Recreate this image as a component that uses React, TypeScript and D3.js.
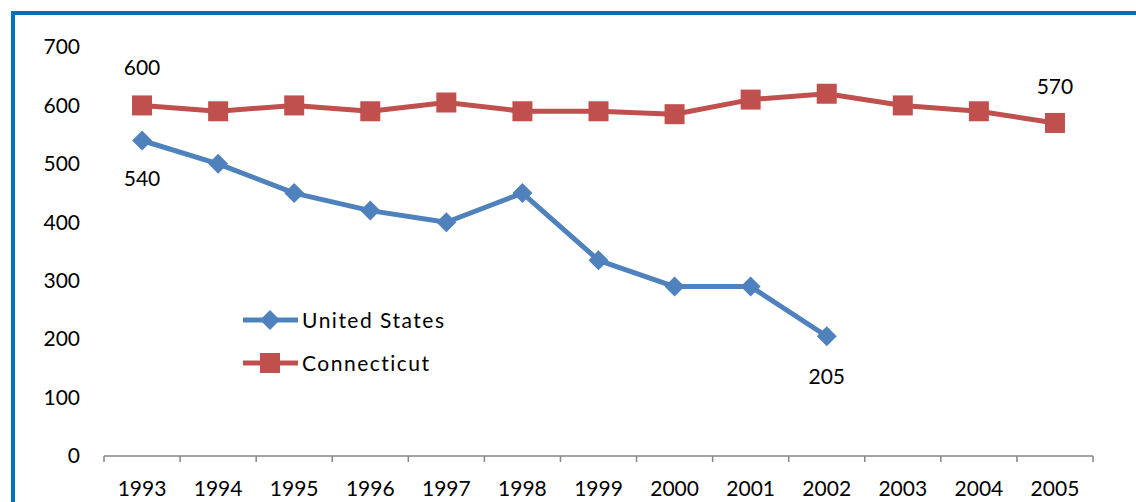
import * as d3 from 'd3';

const years = ['1993', '1994', '1995', '1996', '1997', '1998', '1999', '2000', '2001', '2002', '2003', '2004', '2005'];
const usValues = [540, 500, 450, 420, 400, 450, 335, 290, 290, 205];
const ctValues = [600, 590, 600, 590, 605, 590, 590, 585, 610, 620, 600, 590, 570];
const yTicks = [0, 100, 200, 300, 400, 500, 600, 700];

const W = 1136;
const H = 502;
const FONT = 'Lato, "Open Sans", sans-serif';
const BLUE = '#4f81bd';
const RED = '#c0504d';

export default function App() {
  const x = d3.scaleBand<string>().domain(years).range([104, 1093]);
  const y = d3.scaleLinear().domain([0, 700]).range([456, 47]);
  const cx = (yr: string) => (x(yr) ?? 0) + x.bandwidth() / 2;

  const line = d3
    .line<number>()
    .x((_, i) => cx(years[i]))
    .y((d) => y(d));

  const boundaries = [...years.map((yr) => x(yr) ?? 0), 1093];

  const diamond = (px: number, py: number, r = 10) =>
    `M${px},${py - r}L${px + r},${py}L${px},${py + r}L${px - r},${py}Z`;

  const dataLabels = [
    { text: String(ctValues[0]), yr: years[0], v: ctValues[0], dy: -30 },
    { text: String(usValues[0]), yr: years[0], v: usValues[0], dy: 46 },
    { text: String(usValues[9]), yr: years[9], v: usValues[9], dy: 48 },
    { text: String(ctValues[12]), yr: years[12], v: ctValues[12], dy: -29 },
  ];

  return (
    <svg
      width={W}
      height={H}
      style={{ position: 'absolute', left: 0, top: 0, background: '#fff' }}
      fontFamily={FONT}
    >
      {/* frame */}
      <rect x={13} y={13} width={W + 20} height={H + 20} fill="none" stroke="#0070c0" strokeWidth={4} />

      {/* y axis labels */}
      {yTicks.map((t) => (
        <text key={t} x={80} y={y(t)} dy="0.35em" textAnchor="end" fontSize={21} fill="#000">
          {t}
        </text>
      ))}

      {/* x axis */}
      <line x1={104} x2={1093} y1={y(0)} y2={y(0)} stroke="#868686" strokeWidth={1.5} />
      {boundaries.map((b, i) => (
        <line key={i} x1={b} x2={b} y1={y(0)} y2={y(0) + 6} stroke="#868686" strokeWidth={1.5} />
      ))}
      {years.map((yr) => (
        <text key={yr} x={cx(yr)} y={496} textAnchor="middle" fontSize={21} fill="#000">
          {yr}
        </text>
      ))}

      {/* Connecticut */}
      <path d={line(ctValues) ?? ''} fill="none" stroke={RED} strokeWidth={5} strokeLinejoin="round" />
      {ctValues.map((v, i) => (
        <rect key={i} x={cx(years[i]) - 10} y={y(v) - 10} width={20} height={20} fill={RED} />
      ))}

      {/* United States */}
      <path d={line(usValues) ?? ''} fill="none" stroke={BLUE} strokeWidth={5} strokeLinejoin="round" />
      {usValues.map((v, i) => (
        <path key={i} d={diamond(cx(years[i]), y(v))} fill={BLUE} />
      ))}

      {/* data labels */}
      {dataLabels.map((d, i) => (
        <text key={i} x={cx(d.yr)} y={y(d.v) + d.dy} textAnchor="middle" fontSize={21} fill="#000">
          {d.text}
        </text>
      ))}

      {/* legend */}
      <line x1={243} x2={298} y1={320} y2={320} stroke={BLUE} strokeWidth={5} />
      <path d={diamond(270, 320)} fill={BLUE} />
      <text x={302} y={328} fontSize={21} letterSpacing={1.5} fill="#000">United States</text>
      <line x1={243} x2={298} y1={363} y2={363} stroke={RED} strokeWidth={5} />
      <rect x={260} y={353} width={20} height={20} fill={RED} />
      <text x={302} y={371} fontSize={21} letterSpacing={1.5} fill="#000">Connecticut</text>
    </svg>
  );
}
